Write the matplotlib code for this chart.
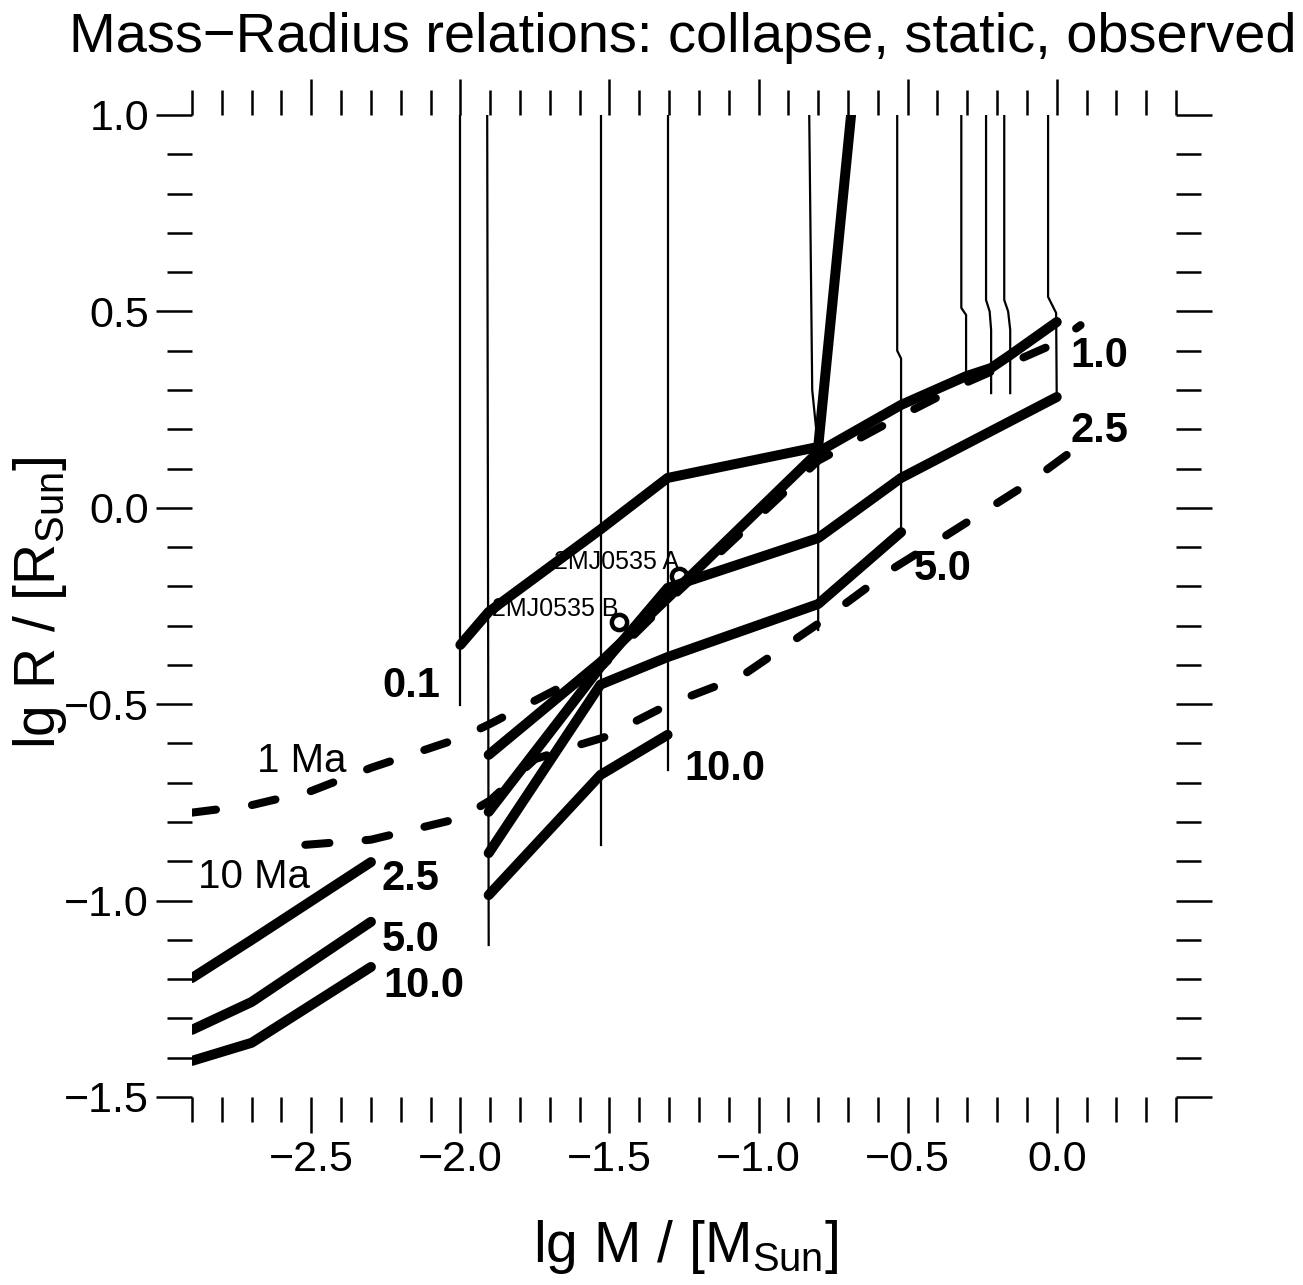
import matplotlib
matplotlib.use("Agg")
import matplotlib.pyplot as plt
from matplotlib.ticker import MultipleLocator, FuncFormatter

plt.rcParams['font.family'] = ['Liberation Sans', 'DejaVu Sans']
plt.rcParams['mathtext.fontset'] = 'custom'
plt.rcParams['mathtext.rm'] = 'Liberation Sans'
plt.rcParams['mathtext.it'] = 'Liberation Sans'

# collapse tracks (thin): lg M, lg R from the start of collapse downwards
track_lgm = [
    [-2.0, -2.0],
    [-1.91, -1.905],
    [-1.53, -1.53],
    [-1.305, -1.305],
    [-0.83, -0.82, -0.80, -0.80],
    [-0.535, -0.535, -0.522, -0.522],
    [-0.320, -0.320, -0.304, -0.304],
    [-0.237, -0.237, -0.225, -0.220, -0.220],
    [-0.176, -0.176, -0.163, -0.156, -0.156],
    [-0.029, -0.029, -0.002, 0.0],
]
track_lgr = [
    [1.0, -0.502],
    [1.0, -1.113],
    [1.0, -0.858],
    [1.0, -0.668],
    [1.0, 0.30, 0.15, -0.311],
    [1.0, 0.40, 0.38, -0.057],
    [1.0, 0.509, 0.491, 0.338],
    [1.0, 0.529, 0.50, 0.453, 0.292],
    [1.0, 0.529, 0.50, 0.453, 0.292],
    [1.0, 0.537, 0.496, 0.282],
]

# collapse isochrones (thick solid), ages in Ma
iso_ages = ['0.1', '1.0', '2.5', '5.0', '10.0']
iso_lgm = [
    [-2.0, -1.905, -1.53, -1.305, -0.80, -0.52],
    [-1.905, -1.53, -1.305, -0.80, -0.522, -0.304, -0.22, -0.156, 0.0],
    [-1.905, -1.53, -1.305, -0.80, -0.522, 0.0],
    [-1.905, -1.53, -1.305, -0.80, -0.522],
    [-1.905, -1.53, -1.305],
]
iso_lgr = [
    [-0.349, -0.265, -0.055, 0.076, 0.155, 2.30],
    [-0.629, -0.393, -0.23, 0.142, 0.262, 0.335, 0.356, 0.389, 0.473],
    [-0.774, -0.405, -0.204, -0.077, 0.076, 0.282],
    [-0.879, -0.45, -0.38, -0.245, -0.062],
    [-0.986, -0.68, -0.578],
]

# low-mass collapse results
low_lgm = [-2.9, -2.7, -2.3]
low_ages = ['2.5', '5.0', '10.0']
low_lgr = [
    [-1.197, -1.100, -0.902],
    [-1.329, -1.258, -1.054],
    [-1.408, -1.362, -1.169],
]

# static model isochrones (dashed)
static_labels = ['1 Ma', '10 Ma']
static_lgm = [
    [-2.9, -2.7, -2.5, -2.3, -2.0, -1.9, -1.52, -1.3, -0.8, -0.52, -0.3, 0.0, 0.08],
    [-2.52, -2.3, -2.0, -1.9, -1.75, -1.63, -1.52, -1.3, -1.06, -0.8, -0.55, -0.37, -0.1, 0.07],
]
static_lgr = [
    [-0.776, -0.757, -0.721, -0.662, -0.586, -0.55, -0.40, -0.235, 0.12, 0.235, 0.32, 0.42, 0.465],
    [-0.858, -0.845, -0.79, -0.745, -0.64, -0.61, -0.585, -0.50, -0.43, -0.295, -0.155, -0.07, 0.06, 0.155],
]

# observed eclipsing binary 2MASS J0535-0546
obs_names = ['2MJ0535 A', '2MJ0535 B']
obs_lgm = [-1.268, -1.469]
obs_lgr = [-0.174, -0.292]

fig = plt.figure(figsize=(13.03, 12.85), dpi=100)
ax = fig.add_axes([192 / 1303, 1 - 1097 / 1285, 984 / 1303, 982 / 1285])

for xs, ys in zip(track_lgm, track_lgr):
    ax.plot(xs, ys, color='black', lw=1.6)

for xs, ys in zip(iso_lgm, iso_lgr):
    ax.plot(xs, ys, color='black', lw=7.2, solid_capstyle='round', solid_joinstyle='round')

for ys in low_lgr:
    ax.plot(low_lgm, ys, color='black', lw=7.2, solid_capstyle='round', solid_joinstyle='round')

for xs, ys in zip(static_lgm, static_lgr):
    ax.plot(xs, ys, color='black', lw=5.8, dashes=(3, 4.5), dash_capstyle='round')

ax.plot(obs_lgm, obs_lgr, 'o', mfc='white', mec='black', mew=3.2, ms=11, zorder=1.5)
for name, x, y in zip(obs_names, obs_lgm, obs_lgr):
    ax.text(x, y + 0.017, name, fontsize=18, ha='right', va='baseline')

# age labels
bold = dict(fontsize=30, fontweight='bold', ha='center', va='baseline')
ax.text(-2.163, -0.482, '0.1', **bold)
ax.text(0.142, 0.358, '1.0', **bold)
ax.text(0.142, 0.167, '2.5', **bold)
ax.text(-0.384, -0.184, '5.0', **bold)
ax.text(-1.114, -0.693, '10.0', **bold)
ax.text(-2.166, -0.973, '2.5', **bold)
ax.text(-2.166, -1.128, '5.0', **bold)
ax.text(-2.123, -1.245, '10.0', **bold)
ax.text(-2.531, -0.673, static_labels[0], fontsize=29, ha='center', va='baseline')
ax.text(-2.692, -0.968, static_labels[1], fontsize=29, ha='center', va='baseline')

ax.set_xlim(-2.9, 0.4)
ax.set_ylim(-1.5, 1.0)
for s in ax.spines.values():
    s.set_visible(False)
ax.xaxis.set_major_locator(MultipleLocator(0.5))
ax.xaxis.set_minor_locator(MultipleLocator(0.1))
ax.yaxis.set_major_locator(MultipleLocator(0.5))
ax.yaxis.set_minor_locator(MultipleLocator(0.1))
ax.tick_params(which='both', direction='out', top=True, right=True, width=1.8, labelsize=31, pad=5)
ax.tick_params(which='major', length=26)
ax.tick_params(which='minor', length=18)
fmt = FuncFormatter(lambda v, pos: ('%.1f' % v).replace('-', '\u2212'))
ax.xaxis.set_major_formatter(fmt)
ax.yaxis.set_major_formatter(fmt)

fig.text(683 / 1303, 1 - 52 / 1285, 'Mass\u2212Radius relations: collapse, static, observed',
         fontsize=40.3, ha='center', va='baseline')
fig.text(686 / 1303, 1 - 1262 / 1285, r'lg M / [M$_{\rm Sun}$]', fontsize=41, ha='center', va='baseline')
fig.text(40 / 1303, 1 - 603 / 1285, r'lg R / [R$_{\rm Sun}$]', fontsize=41, rotation=90,
         ha='center', va='center')

fig.savefig('out.png', dpi=100)
